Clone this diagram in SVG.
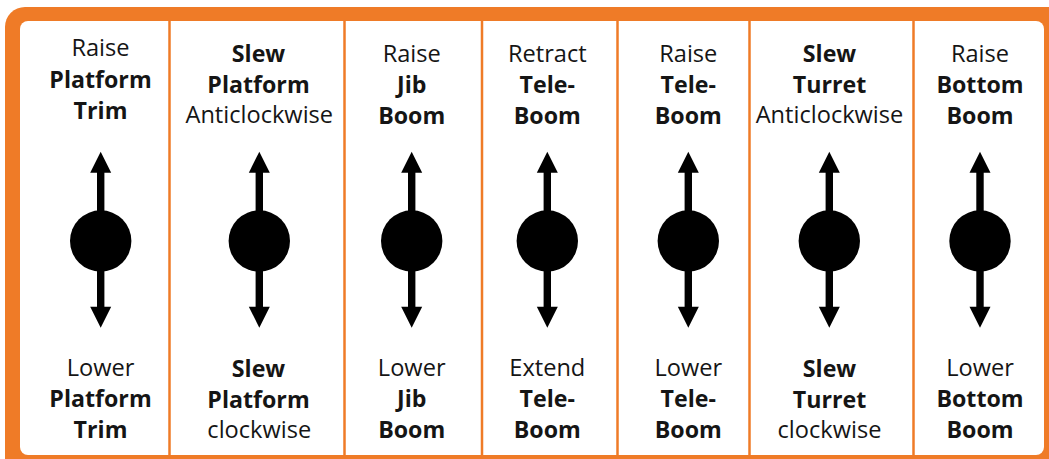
<svg xmlns="http://www.w3.org/2000/svg" xmlns:xlink="http://www.w3.org/1999/xlink" width="1049" height="459" viewBox="0 0 1049 459">
<style>
.t{font-family:"Open Sans","Noto Sans","Liberation Sans",sans-serif;font-size:23.6px;fill:#151515;text-anchor:middle}
.b{font-weight:700;font-size:23.2px}
.div{stroke:#EF7B27;stroke-width:2.5}
</style>
<defs>
<g id="knob">
<rect x="-3.7" y="168" width="7.4" height="142" fill="#000"/>
<polygon points="0,151.7 -10.5,172.7 10.5,172.7" fill="#000"/>
<polygon points="0,327.7 -10.5,306.7 10.5,306.7" fill="#000"/>
<circle cx="0" cy="241" r="30.7" fill="#000"/>
</g>
</defs>
<g id="frame">
<rect x="5" y="7" width="1062" height="472" rx="20" fill="#EF7B27"/>
<rect x="20" y="21" width="1024" height="434" rx="8" fill="#fff"/>
</g>
<g id="dividers">
<line class="div" x1="169.5" y1="21" x2="169.5" y2="455"/>
<line class="div" x1="344.5" y1="21" x2="344.5" y2="455"/>
<line class="div" x1="482" y1="21" x2="482" y2="455"/>
<line class="div" x1="617.5" y1="21" x2="617.5" y2="455"/>
<line class="div" x1="749.5" y1="21" x2="749.5" y2="455"/>
<line class="div" x1="913.5" y1="21" x2="913.5" y2="455"/>
</g>
<g id="col1">
<text class="t" x="100.5" y="56">Raise</text>
<text class="t b" x="100.5" y="88">Platform</text>
<text class="t b" x="100.5" y="119">Trim</text>
<use xlink:href="#knob" x="100.7"/>
<text class="t" x="100.5" y="376">Lower</text>
<text class="t b" x="100.5" y="407">Platform</text>
<text class="t b" x="100.5" y="438">Trim</text>
</g>
<g id="col2">
<text class="t b" x="258.5" y="62">Slew</text>
<text class="t b" x="258.5" y="93">Platform</text>
<text class="t" x="259.3" y="123">Anticlockwise</text>
<use xlink:href="#knob" x="259.3"/>
<text class="t b" x="258.5" y="377">Slew</text>
<text class="t b" x="258.5" y="408">Platform</text>
<text class="t" x="259.3" y="438">clockwise</text>
</g>
<g id="col3">
<text class="t" x="411.7" y="62">Raise</text>
<text class="t b" x="411.7" y="93">Jib</text>
<text class="t b" x="411.7" y="124">Boom</text>
<use xlink:href="#knob" x="411.7"/>
<text class="t" x="411.7" y="376">Lower</text>
<text class="t b" x="411.7" y="407">Jib</text>
<text class="t b" x="411.7" y="438">Boom</text>
</g>
<g id="col4">
<text class="t" x="547.3" y="62">Retract</text>
<text class="t b" x="547.3" y="93">Tele-</text>
<text class="t b" x="547.3" y="124">Boom</text>
<use xlink:href="#knob" x="547.3"/>
<text class="t" x="547.3" y="376">Extend</text>
<text class="t b" x="547.3" y="407">Tele-</text>
<text class="t b" x="547.3" y="438">Boom</text>
</g>
<g id="col5">
<text class="t" x="688.3" y="62">Raise</text>
<text class="t b" x="688.3" y="93">Tele-</text>
<text class="t b" x="688.3" y="124">Boom</text>
<use xlink:href="#knob" x="688.3"/>
<text class="t" x="688.3" y="376">Lower</text>
<text class="t b" x="688.3" y="407">Tele-</text>
<text class="t b" x="688.3" y="438">Boom</text>
</g>
<g id="col6">
<text class="t b" x="829.5" y="62">Slew</text>
<text class="t b" x="829.5" y="93">Turret</text>
<text class="t" x="829.5" y="123">Anticlockwise</text>
<use xlink:href="#knob" x="829.3"/>
<text class="t b" x="829.5" y="377">Slew</text>
<text class="t b" x="829.5" y="408">Turret</text>
<text class="t" x="829.5" y="438">clockwise</text>
</g>
<g id="col7">
<text class="t" x="980" y="62">Raise</text>
<text class="t b" x="980" y="93">Bottom</text>
<text class="t b" x="980" y="124">Boom</text>
<use xlink:href="#knob" x="980"/>
<text class="t" x="980" y="376">Lower</text>
<text class="t b" x="980" y="407">Bottom</text>
<text class="t b" x="980" y="438">Boom</text>
</g>
</svg>
